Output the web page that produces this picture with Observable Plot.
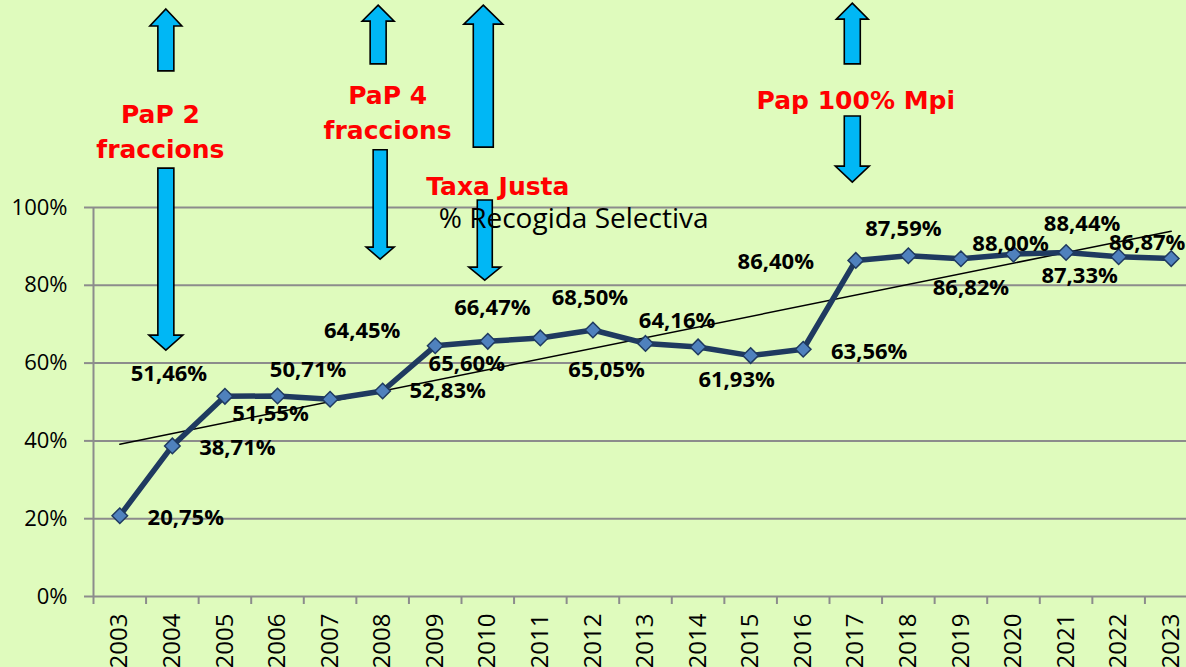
<!DOCTYPE html>
<html><head><meta charset="utf-8">
<script src="https://cdn.jsdelivr.net/npm/d3@7"></script>
<script src="https://cdn.jsdelivr.net/npm/@observablehq/plot@0.6"></script>
<style>
html,body{margin:0;padding:0;background:#dffbbd;}
#chart svg{display:block}
</style></head><body><div id="chart"></div>
<script>
// ---- data ----
const years = ["2003","2004","2005","2006","2007","2008","2009","2010","2011","2012","2013",
               "2014","2015","2016","2017","2018","2019","2020","2021","2022","2023"];
const values = [20.75,38.71,51.46,51.55,50.71,52.83,64.45,65.60,66.47,68.50,65.05,
                64.16,61.93,63.56,86.40,87.59,86.82,88.00,88.44,87.33,86.87];
const yTicks = [0,20,40,60,80,100];
const title = "% Recogida Selectiva";

// label placement (pixel offsets from each point)
const labelDx = [66,65,-56,-7,-22,65,-73,-21,-48,-3,-39,-21,-14,66,-80,-5,10,-3,16,-39,-24];
const labelDy = [2,2,-22,18,-29,0,-15,23,-30,-32,26,-26,24,3,2,-27,29,-10,-29,19,-16];

// annotations
const annText = ["PaP 2\nfraccions","PaP 4\nfraccions","Taxa Justa","Pap 100% Mpi"];
const annYear = ["2004","2008","2010","2017"];
const annDx = [-12,5,10,0];
const annTop = [128.2,133.1,109.7,131.8];

const arrowYear = ["2004","2004","2008","2008","2010","2010","2017","2017"];
const arrowDx = [-6,-6,-4,-2,-4,-2.5,-3,-3];
const arrowTail = [135.0,110.0,136.8,114.7,115.4,101.8,136.8,123.4];
const arrowTip = [150.9,63.2,151.9,86.6,151.9,81.2,152.4,106.4];
const arrowShaft = [8,8,8,7,10,7.5,8,8];
const arrowHead = [16,17,16,14,19.5,16,16,17];
const arrowHeadLen = [17,15,16,12,19,13,16,16];

// ---- derived ----
const data = years.map((year,i)=>({year, value: values[i], i}));
const n = values.length;
const xs = d3.range(n);
const mx = d3.mean(xs), my = d3.mean(values);
const slope = d3.sum(xs,(x,i)=>(x-mx)*(values[i]-my)) / d3.sum(xs,x=>(x-mx)**2);
const intercept = my - slope*mx;
const trend = [{year: years[0], value: intercept},{year: years[n-1], value: intercept + slope*(n-1)}];
const fmt = v => v.toFixed(2).replace(".", ",") + "%";

const W = 1186, H = 667;
const xRange = [93, 1197];
const step = (xRange[1]-xRange[0]) / years.length;
const gray = "#8c8c8c";

const arrows = arrowYear.map((y,i)=>({year:y, dx:arrowDx[i], tail:arrowTail[i], tip:arrowTip[i],
  w:arrowShaft[i], h:arrowHead[i], L:arrowHeadLen[i]}));

function arrowMark(index, scales) {
  const sx = scales.x, sy = scales.y;
  const bw = typeof sx.bandwidth === "function" ? sx.bandwidth() : step;
  const g = d3.create("svg:g");
  for (const a of arrows) {
    const cx = sx(a.year) + bw/2 + a.dx;
    const yT = sy(a.tail), yP = sy(a.tip);
    const dir = yP < yT ? 1 : -1; // 1 = up
    const yb = yP + dir*a.L;
    const pts = [[cx,yP],[cx+a.h,yb],[cx+a.w,yb],[cx+a.w,yT],[cx-a.w,yT],[cx-a.w,yb],[cx-a.h,yb]];
    g.append("path").attr("d","M"+pts.map(p=>p.join(",")).join("L")+"Z")
      .attr("fill","#00b7f5").attr("stroke","#000").attr("stroke-width",1.6)
      .attr("stroke-linejoin","miter");
  }
  return g.node();
}

const labelMarks = data.map(d => Plot.text([d], {
  x: "year", y: "value", text: d => fmt(d.value),
  dx: labelDx[d.i], dy: labelDy[d.i],
  fontWeight: "bold", fontSize: 22, fill: "#000", fontFamily: "Open Sans"
}));

const annMarks = annText.map((t,i) => Plot.text([{year: annYear[i], v: annTop[i], t}], {
  x: "year", y: "v", text: "t", dx: annDx[i], lineAnchor: "top", lineHeight: 1.4,
  fontSize: 25, fontWeight: "bold", fill: "#ff0000", fontFamily: "DejaVu Sans"
}));

const plot = Plot.plot({
  width: W, height: H,
  marginLeft: 93, marginRight: 0, marginTop: 207, marginBottom: 71,
  style: {background: "transparent", fontFamily: "Open Sans", overflow: "visible"},
  x: {type: "band", domain: years, range: xRange, padding: 0, round: false, axis: null},
  y: {domain: [0, 100], axis: null},
  marks: [
    Plot.ruleY(yTicks, {stroke: gray, strokeWidth: 2}),
    Plot.ruleX([years[0]], {dx: -step/2, stroke: gray, strokeWidth: 2}),
    Plot.axisX({ticks: years, tickSize: 8, dx: -step/2, tickFormat: () => "", stroke: gray, strokeWidth: 2, label: null}),
    Plot.axisX({ticks: years, tickSize: 0, tickRotate: -90, tickPadding: 17, fontSize: 24,
      tickFormat: d => d, fill: "#000", label: null}),
    Plot.axisY({ticks: yTicks, tickSize: 9, tickPadding: 17, fontSize: 22, tickFormat: d => d + "%",
      stroke: gray, strokeWidth: 2, fill: "#000", label: null}),
    arrowMark,
    Plot.text([{year: "2010", v: 100, t: title}], {x: "year", y: "v", text: "t", dx: -49, dy: 1,
      textAnchor: "start", lineAnchor: "top", fontSize: 28, fill: "#000", fontFamily: "Open Sans"}),
    ...annMarks,
    Plot.line(trend, {x: "year", y: "value", stroke: "#000", strokeWidth: 1.5}),
    Plot.line(data, {x: "year", y: "value", stroke: "#1f3a60", strokeWidth: 5.5}),
    Plot.dot(data, {x: "year", y: "value", symbol: "diamond2", r: 7, fill: "#4f81bd", stroke: "#1f3a60", strokeWidth: 1.5}),
    ...labelMarks
  ]
});
document.getElementById("chart").appendChild(plot);
</script>
</body></html>
